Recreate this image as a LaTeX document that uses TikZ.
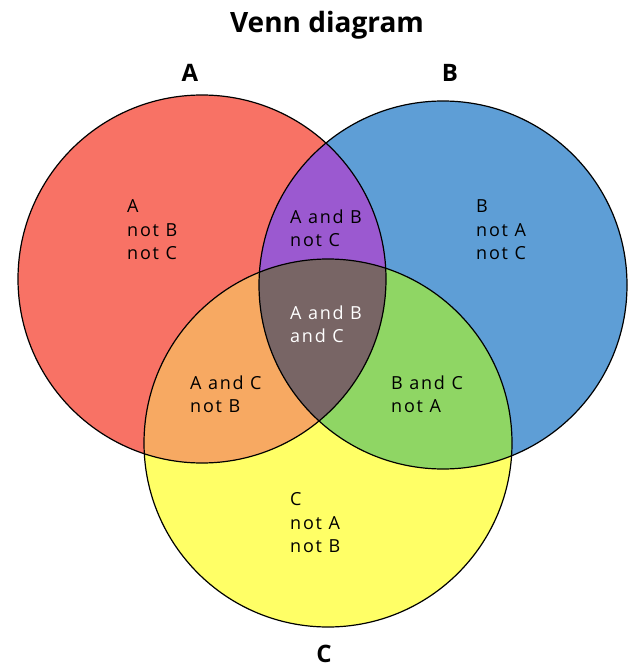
\documentclass[tikz,border=0pt]{standalone}
\usepackage{fontspec}
\setmainfont{Open Sans}
\newfontfamily\regionfont[LetterSpace=10]{Open Sans}
\definecolor{cA}{HTML}{F87265}
\definecolor{cB}{HTML}{5E9ED6}
\definecolor{cC}{HTML}{FFFF66}
\definecolor{cAB}{HTML}{9B59D0}
\definecolor{cAC}{HTML}{F7A962}
\definecolor{cBC}{HTML}{8FD664}
\definecolor{cABC}{HTML}{786565}
\tikzset{
  region/.style={align=left, anchor=west, inner sep=0pt, font=\regionfont\fontsize{18}{23.5}\selectfont},
  setlabel/.style={font=\fontsize{24}{28}\selectfont\bfseries, inner sep=0pt, anchor=base},
  outline/.style={draw=black, line width=1.2pt}
}
\begin{document}
\begin{tikzpicture}[x=1pt,y=-1pt]
\useasboundingbox (0,0) rectangle (627,668);
\def\circA{(202,279) circle[radius=184pt]}
\def\circB{(443,285) circle[radius=184pt]}
\def\circC{(328,443) circle[radius=184pt]}
\fill[cA] \circA;
\fill[cB] \circB;
\fill[cC] \circC;
\begin{scope}\clip \circA; \fill[cAB] \circB; \fill[cAC] \circC;\end{scope}
\begin{scope}\clip \circB; \fill[cBC] \circC;\end{scope}
\begin{scope}\clip \circA; \clip \circB; \fill[cABC] \circC;\end{scope}
\draw[outline] \circA;
\draw[outline] \circB;
\draw[outline] \circC;
\node[setlabel, font=\fontsize{28}{32}\selectfont\bfseries] (title) at (327,33) {Venn diagram};
\node[setlabel] (la) at (190,82) {A};
\node[setlabel] (lb) at (450,82) {B};
\node[setlabel] (lc) at (324,662) {C};
\node[region] (ra) at (127,230) {A\\not B\\not C};
\node[region] (rb) at (476,230) {B\\not A\\not C};
\node[region] (rab) at (290,228) {A and B\\not C};
\node[region, text=white] (rabc) at (290,324) {A and B\\and C};
\node[region] (rac) at (190,394) {A and C\\not B};
\node[region] (rbc) at (391,394) {B and C\\not A};
\node[region] (rc) at (290,523) {C\\not A\\not B};
\end{tikzpicture}
\end{document}
